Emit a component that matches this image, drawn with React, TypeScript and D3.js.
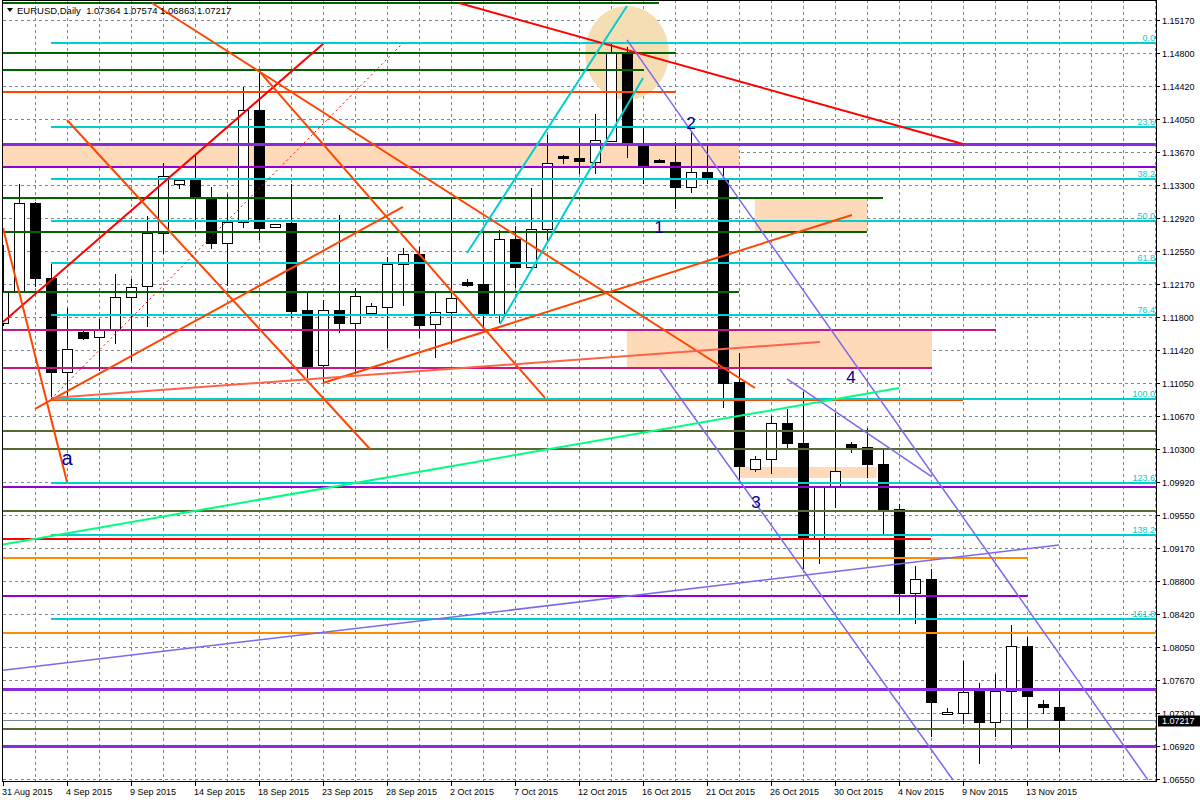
import { useEffect, useRef } from 'react';
import * as d3 from 'd3';

// EURUSD daily. Bar 0 = 31 Aug 2015, the feed has Sunday bars (6 bars a week).
const opens = [
  1.11730, 1.12094, 1.13095, 1.12242, 1.11173, 1.11628, 1.11571, 1.11662, 1.12026, 1.12151,
  1.12754, 1.13311, 1.13356, 1.13140, 1.12640, 1.12879, 1.14152, 1.12822, 1.12867, 1.11878,
  1.11253, 1.11878, 1.11730, 1.11844, 1.11912, 1.12401, 1.12515, 1.11719, 1.11855, 1.12196,
  1.12174, 1.11833, 1.12685, 1.12367, 1.12799, 1.13629, 1.13606, 1.13561, 1.13799, 1.14811,
  1.13743, 1.13583, 1.13561, 1.13276, 1.13447, 1.13367, 1.11060, 1.10071, 1.10184, 1.10594,
  1.10366, 1.09286, 1.09877, 1.10355, 1.10321, 1.10128, 1.09616, 1.08661, 1.08820, 1.07286,
  1.07297, 1.07547, 1.07195, 1.07547, 1.08059, 1.07399, 1.07364,
];
const highs = [
  1.12617, 1.13311, 1.13100, 1.12424, 1.11901, 1.11640, 1.11776, 1.12287, 1.12231, 1.12947,
  1.13549, 1.13356, 1.13629, 1.13276, 1.13197, 1.14413, 1.14572, 1.12856, 1.13311, 1.12071,
  1.11992, 1.12958, 1.12128, 1.11958, 1.12481, 1.12583, 1.12594, 1.12071, 1.13163, 1.12231,
  1.12754, 1.12788, 1.12833, 1.13265, 1.13868, 1.13640, 1.13958, 1.14106, 1.14913, 1.14868,
  1.13947, 1.13595, 1.13788, 1.13902, 1.13743, 1.13492, 1.11389, 1.10218, 1.10673, 1.10753,
  1.10946, 1.09866, 1.10707, 1.10378, 1.10537, 1.10298, 1.09673, 1.08968, 1.08934, 1.07354,
  1.07888, 1.07638, 1.07740, 1.08297, 1.08161, 1.07445, 1.07574,
];
const lows = [
  1.11708, 1.12071, 1.12151, 1.10866, 1.10889, 1.11548, 1.11196, 1.11503, 1.11310, 1.11696,
  1.12526, 1.13265, 1.12810, 1.12583, 1.12162, 1.12822, 1.12685, 1.12822, 1.11799, 1.11116,
  1.11060, 1.11628, 1.11162, 1.11844, 1.11458, 1.11935, 1.11571, 1.11344, 1.11503, 1.12151,
  1.11708, 1.11742, 1.12140, 1.12333, 1.12674, 1.13549, 1.13436, 1.13436, 1.13799, 1.13617,
  1.13322, 1.13561, 1.13038, 1.13220, 1.13322, 1.10776, 1.09946, 1.10048, 1.10025, 1.10309,
  1.08945, 1.09002, 1.09639, 1.10264, 1.09980, 1.09343, 1.08434, 1.08320, 1.07035, 1.07286,
  1.07183, 1.06728, 1.07035, 1.06899, 1.07126, 1.07297, 1.06863,
];
const closes = [
  1.12083, 1.13095, 1.12242, 1.11173, 1.11435, 1.11560, 1.11662, 1.12026, 1.12140, 1.12754,
  1.13401, 1.13356, 1.13163, 1.12640, 1.12879, 1.14152, 1.12810, 1.12856, 1.11867, 1.11242,
  1.11878, 1.11730, 1.12037, 1.11924, 1.12401, 1.12515, 1.11708, 1.11855, 1.12015, 1.12162,
  1.11833, 1.12685, 1.12367, 1.12799, 1.13549, 1.13606, 1.13572, 1.13811, 1.14811, 1.13777,
  1.13527, 1.13561, 1.13276, 1.13447, 1.13379, 1.11048, 1.10105, 1.10184, 1.10594, 1.10366,
  1.09286, 1.09866, 1.10048, 1.10321, 1.10128, 1.09605, 1.08661, 1.08820, 1.07422, 1.07308,
  1.07536, 1.07195, 1.07547, 1.08059, 1.07490, 1.07365, 1.07217,
];

// one label every 4 bars
const dateLabels = [
  '31 Aug 2015', '4 Sep 2015', '9 Sep 2015', '14 Sep 2015', '18 Sep 2015', '23 Sep 2015',
  '28 Sep 2015', '2 Oct 2015', '7 Oct 2015', '12 Oct 2015', '16 Oct 2015', '21 Oct 2015',
  '26 Oct 2015', '30 Oct 2015', '4 Nov 2015', '9 Nov 2015', '13 Nov 2015',
];
const priceLabels = [
  '1.15170', '1.14800', '1.14420', '1.14050', '1.13670', '1.13300', '1.12920', '1.12550',
  '1.12170', '1.11800', '1.11420', '1.11050', '1.10670', '1.10300', '1.09920', '1.09550',
  '1.09170', '1.08800', '1.08420', '1.08050', '1.07670', '1.07300', '1.06920', '1.06550',
];

// Fibonacci retracement, anchored bar 3 (low) -> bar 25 (high)
const fibHigh = 1.14913;
const fibLow = 1.10866;
const fibRatios = [0, 0.236, 0.382, 0.5, 0.618, 0.764, 1, 1.236, 1.382, 1.618];
const fibNames = ['0.0', '23.6', '38.2', '50.0', '61.8', '76.4', '100.0', '123.6', '138.2', '161.8'];

// horizontal levels: price, from bar, to bar (null = to the right edge), kind
const levelPrices = [
  1.15368, 1.14800, 1.14607, 1.14356, 1.13765, 1.13504, 1.13151, 1.12765, 1.12083, 1.11651,
  1.11219, 1.10855, 1.10855, 1.10503, 1.10298, 1.09866, 1.09593, 1.09275, 1.09059, 1.08627,
  1.08206, 1.07570, 1.07115, 1.06922,
];
const levelFrom = [
  -1, -1, -1, -1, -1, -1, -1, -1, -1, -1,
  -1, 3, 31.5, -1, -1, -1, -1, -1, -1, -1,
  -1, -1, -1, -1,
];
const levelTo = [
  41, 42.06, 40.06, 42.06, null, null, 55, 54, 46, 62.06,
  58.06, 31.5, 60, null, null, null, null, 58, 64.06, 64.06,
  null, null, null, null,
];
const levelKinds = [
  'green', 'green', 'green', 'orangered', 'violetBold', 'violet', 'green', 'green', 'green', 'magenta',
  'magenta', 'orangeredThin', 'orangered', 'olive', 'olive', 'violet', 'olive', 'red', 'orange', 'violet',
  'orange', 'violetBold', 'olive', 'violetBold',
];

// shaded zones: from bar, to bar, upper price, lower price
const zoneFrom = [-1, 47, 39, 46.06];
const zoneTo = [46, 54, 58.06, 54.6];
const zoneTop = [1.13765, 1.13151, 1.11651, 1.10093];
const zoneBottom = [1.13504, 1.12765, 1.11219, 1.09968];

// ellipse drawn around the top
const ellipseBar = 39;
const ellipsePrice = 1.148;

// trend lines: bar1, price1, bar2, price2, kind
const trendBar1 = [0, 28.5, 9.31, 4, 15.94, 2, 20, 3, 0, 29, 31.06, 39, 41, 49, -0.1875, -0.1875, 3];
const trendPrice1 = [
  1.11742, 1.15368, 1.15368, 1.14038, 1.14607, 1.10753, 1.11048, 1.10878, 1.12810, 1.12526,
  1.11719, 1.14948, 1.11219, 1.11094, 1.07778, 1.09207, 1.10866,
];
const trendBar2 = [20, 60, 47, 22.94, 33.875, 25, 53.06, 51.06, 4, 39, 40, 71.56, 59.375, 58.06, 66, 56, 25];
const trendPrice2 = [
  1.14902, 1.13765, 1.10991, 1.10298, 1.10878, 1.13049, 1.12958, 1.11514, 1.09923, 1.15334,
  1.14516, 1.06535, 1.06535, 1.09980, 1.09207, 1.10991, 1.14913,
];
const trendKinds = [
  'red', 'red', 'orangered', 'orangered', 'orangered', 'orangered', 'orangered', 'tomato', 'orangered', 'cyan',
  'cyan', 'slate', 'slate', 'slate', 'slate', 'spring', 'fibDash',
];

// wave marks
const waveText = ['2', '1', '3', '4', 'a'];
const waveBar = [43, 41, 47.06, 53, 4];
const wavePrice = [1.13936, 1.12754, 1.09627, 1.11048, 1.10116];

const STYLE: Record<string, { color: string; width: number; dash?: string }> = {
  green: { color: '#006400', width: 2 },
  orangered: { color: '#FF4500', width: 2 },
  orangeredThin: { color: '#FF4500', width: 1 },
  red: { color: '#FF0000', width: 2 },
  violet: { color: '#9400D3', width: 2 },
  violetBold: { color: '#8A2BE2', width: 3 },
  magenta: { color: '#C71585', width: 2 },
  olive: { color: '#556B2F', width: 2 },
  orange: { color: '#FF8C00', width: 2 },
  tomato: { color: '#FF6347', width: 2 },
  cyan: { color: '#00CED1', width: 2 },
  slate: { color: '#7B68EE', width: 1.5 },
  spring: { color: '#00FF7F', width: 2 },
  fibDash: { color: '#FF0000', width: 1, dash: '2,3' },
};

const FONT = '"Liberation Sans", Arial, sans-serif';
const GRID_COLOR = '#778899';
const W = 1200;
const H = 800;
const PLOT_RIGHT = 1156.5;
const PLOT_BOTTOM = 781.5;

export default function App() {
  const svgRef = useRef<SVGSVGElement>(null);

  useEffect(() => {
    if (!svgRef.current) return;
    const svg = d3.select(svgRef.current);
    svg.selectAll('*').remove();

    // bar index -> pixel, 16px per bar
    const x = d3.scaleLinear().domain([0, 1]).range([3, 19]);
    const y = d3.scaleLinear().domain([1.0655, 1.1517]).range([778.7, 20.4]);
    const crisp = (v: number) => Math.round(v) + 0.5;
    const xEnd = (b: number | null) => (b === null ? PLOT_RIGHT : x(b));

    svg.append('rect').attr('width', W).attr('height', H).attr('fill', '#ffffff');

    const defs = svg.append('defs');
    defs.append('clipPath').attr('id', 'plot')
      .append('rect').attr('x', 3).attr('y', 1).attr('width', 1153).attr('height', 780);

    const plot = svg.append('g').attr('clip-path', 'url(#plot)');

    // grid
    const grid = plot.append('g')
      .attr('stroke', GRID_COLOR).attr('stroke-width', 1)
      .attr('stroke-dasharray', '3,3').attr('shape-rendering', 'crispEdges');
    priceLabels.forEach(p => {
      const yy = crisp(y(+p));
      grid.append('line').attr('x1', 3).attr('x2', PLOT_RIGHT).attr('y1', yy).attr('y2', yy);
    });
    for (let b = 2; b <= 72; b += 2) {
      const xx = crisp(x(b));
      grid.append('line').attr('x1', xx).attr('x2', xx).attr('y1', 0).attr('y2', PLOT_BOTTOM);
    }

    // zones and ellipse sit behind the candles
    zoneFrom.forEach((f, i) => {
      plot.append('rect')
        .attr('x', x(f))
        .attr('y', y(zoneTop[i]))
        .attr('width', x(zoneTo[i]) - x(f))
        .attr('height', y(zoneBottom[i]) - y(zoneTop[i]))
        .attr('fill', '#FFDAB9');
    });
    plot.append('ellipse')
      .attr('cx', x(ellipseBar)).attr('cy', y(ellipsePrice))
      .attr('rx', 42).attr('ry', 47)
      .attr('fill', '#F5DEB3');

    // bid line
    const yBid = crisp(y(closes[closes.length - 1]));
    plot.append('line')
      .attr('x1', 3).attr('x2', PLOT_RIGHT).attr('y1', yBid).attr('y2', yBid)
      .attr('stroke', GRID_COLOR).attr('stroke-width', 1).attr('shape-rendering', 'crispEdges');

    // candles
    const candles = plot.append('g').attr('shape-rendering', 'crispEdges');
    opens.forEach((o, i) => {
      const c = closes[i];
      const cx = Math.round(x(i));
      candles.append('line')
        .attr('x1', cx + 0.5).attr('x2', cx + 0.5)
        .attr('y1', Math.round(y(highs[i]))).attr('y2', Math.round(y(lows[i])) + 1)
        .attr('stroke', '#000').attr('stroke-width', 1);
      const yo = Math.round(y(o));
      const yc = Math.round(y(c));
      candles.append('rect')
        .attr('x', cx - 4.5)
        .attr('y', Math.min(yo, yc) + 0.5)
        .attr('width', 10)
        .attr('height', Math.max(Math.abs(yo - yc), 0.01))
        .attr('fill', c >= o ? '#ffffff' : '#000000')
        .attr('stroke', '#000').attr('stroke-width', 1);
    });

    // horizontal levels
    const levels = plot.append('g').attr('shape-rendering', 'crispEdges');
    levelPrices.forEach((p, i) => {
      const st = STYLE[levelKinds[i]];
      const yy = Math.round(y(p)) + (st.width % 2 ? 0.5 : 0);
      levels.append('line')
        .attr('x1', x(levelFrom[i])).attr('x2', xEnd(levelTo[i]))
        .attr('y1', yy).attr('y2', yy)
        .attr('stroke', st.color).attr('stroke-width', st.width);
    });

    // fibonacci levels
    const fibG = plot.append('g');
    fibRatios.forEach((r, i) => {
      const yy = Math.round(y(fibHigh - r * (fibHigh - fibLow)));
      fibG.append('line')
        .attr('x1', x(3)).attr('x2', PLOT_RIGHT).attr('y1', yy).attr('y2', yy)
        .attr('stroke', STYLE.cyan.color).attr('stroke-width', 2)
        .attr('shape-rendering', 'crispEdges');
      fibG.append('text')
        .attr('x', 1155).attr('y', yy - 2)
        .attr('text-anchor', 'end')
        .attr('font-family', FONT).attr('font-size', 9)
        .attr('fill', STYLE.cyan.color)
        .text(fibNames[i]);
    });

    // trend lines
    trendBar1.forEach((b1, i) => {
      const st = STYLE[trendKinds[i]];
      plot.append('line')
        .attr('x1', x(b1)).attr('y1', y(trendPrice1[i]))
        .attr('x2', x(trendBar2[i])).attr('y2', y(trendPrice2[i]))
        .attr('stroke', st.color).attr('stroke-width', st.width)
        .attr('stroke-dasharray', st.dash ?? null);
    });

    // wave marks
    waveText.forEach((t, i) => {
      plot.append('text')
        .attr('x', x(waveBar[i])).attr('y', y(wavePrice[i]))
        .attr('text-anchor', 'middle')
        .attr('font-family', FONT)
        .attr('font-size', t === 'a' ? 20 : 17)
        .attr('fill', '#00008B')
        .text(t);
    });

    // frame
    svg.append('rect')
      .attr('x', 2.5).attr('y', 0.5)
      .attr('width', PLOT_RIGHT - 2.5).attr('height', PLOT_BOTTOM - 0.5)
      .attr('fill', 'none').attr('stroke', '#000').attr('stroke-width', 1)
      .attr('shape-rendering', 'crispEdges');

    // price axis
    const axisG = svg.append('g').attr('font-family', FONT).attr('font-size', 9).attr('fill', '#000');
    priceLabels.forEach(p => {
      const yy = crisp(y(+p));
      axisG.append('line')
        .attr('x1', PLOT_RIGHT).attr('x2', PLOT_RIGHT + 3).attr('y1', yy).attr('y2', yy)
        .attr('stroke', '#000').attr('shape-rendering', 'crispEdges');
      axisG.append('text').attr('x', 1162).attr('y', yy + 3).text(p);
    });

    // bid price box
    axisG.append('rect')
      .attr('x', 1158).attr('y', yBid - 5).attr('width', 42).attr('height', 11)
      .attr('fill', '#000');
    axisG.append('text')
      .attr('x', 1162).attr('y', yBid + 3.5).attr('fill', '#fff')
      .text(closes[closes.length - 1].toFixed(5));

    // date axis
    dateLabels.forEach((d, i) => {
      const xx = crisp(x(i * 4));
      axisG.append('line')
        .attr('x1', xx).attr('x2', xx).attr('y1', PLOT_BOTTOM).attr('y2', PLOT_BOTTOM + 4)
        .attr('stroke', '#000').attr('shape-rendering', 'crispEdges');
      axisG.append('text').attr('x', xx - 1.5).attr('y', 795).text(d);
    });

    // header
    svg.append('path').attr('d', 'M7,8 L13,8 L10,12 Z').attr('fill', '#000');
    svg.append('text')
      .attr('x', 17).attr('y', 14)
      .attr('font-family', FONT).attr('font-size', 9.5).attr('fill', '#000')
      .style('white-space', 'pre')
      .text(`EURUSD,Daily  ${opens[opens.length - 1].toFixed(5)} ${highs[highs.length - 1].toFixed(5)} ${lows[lows.length - 1].toFixed(5)} ${closes[closes.length - 1].toFixed(5)}`);
  }, []);

  return (
    <svg
      ref={svgRef}
      width={W}
      height={H}
      viewBox={`0 0 ${W} ${H}`}
      style={{ position: 'absolute', left: 0, top: 0, display: 'block' }}
    />
  );
}
